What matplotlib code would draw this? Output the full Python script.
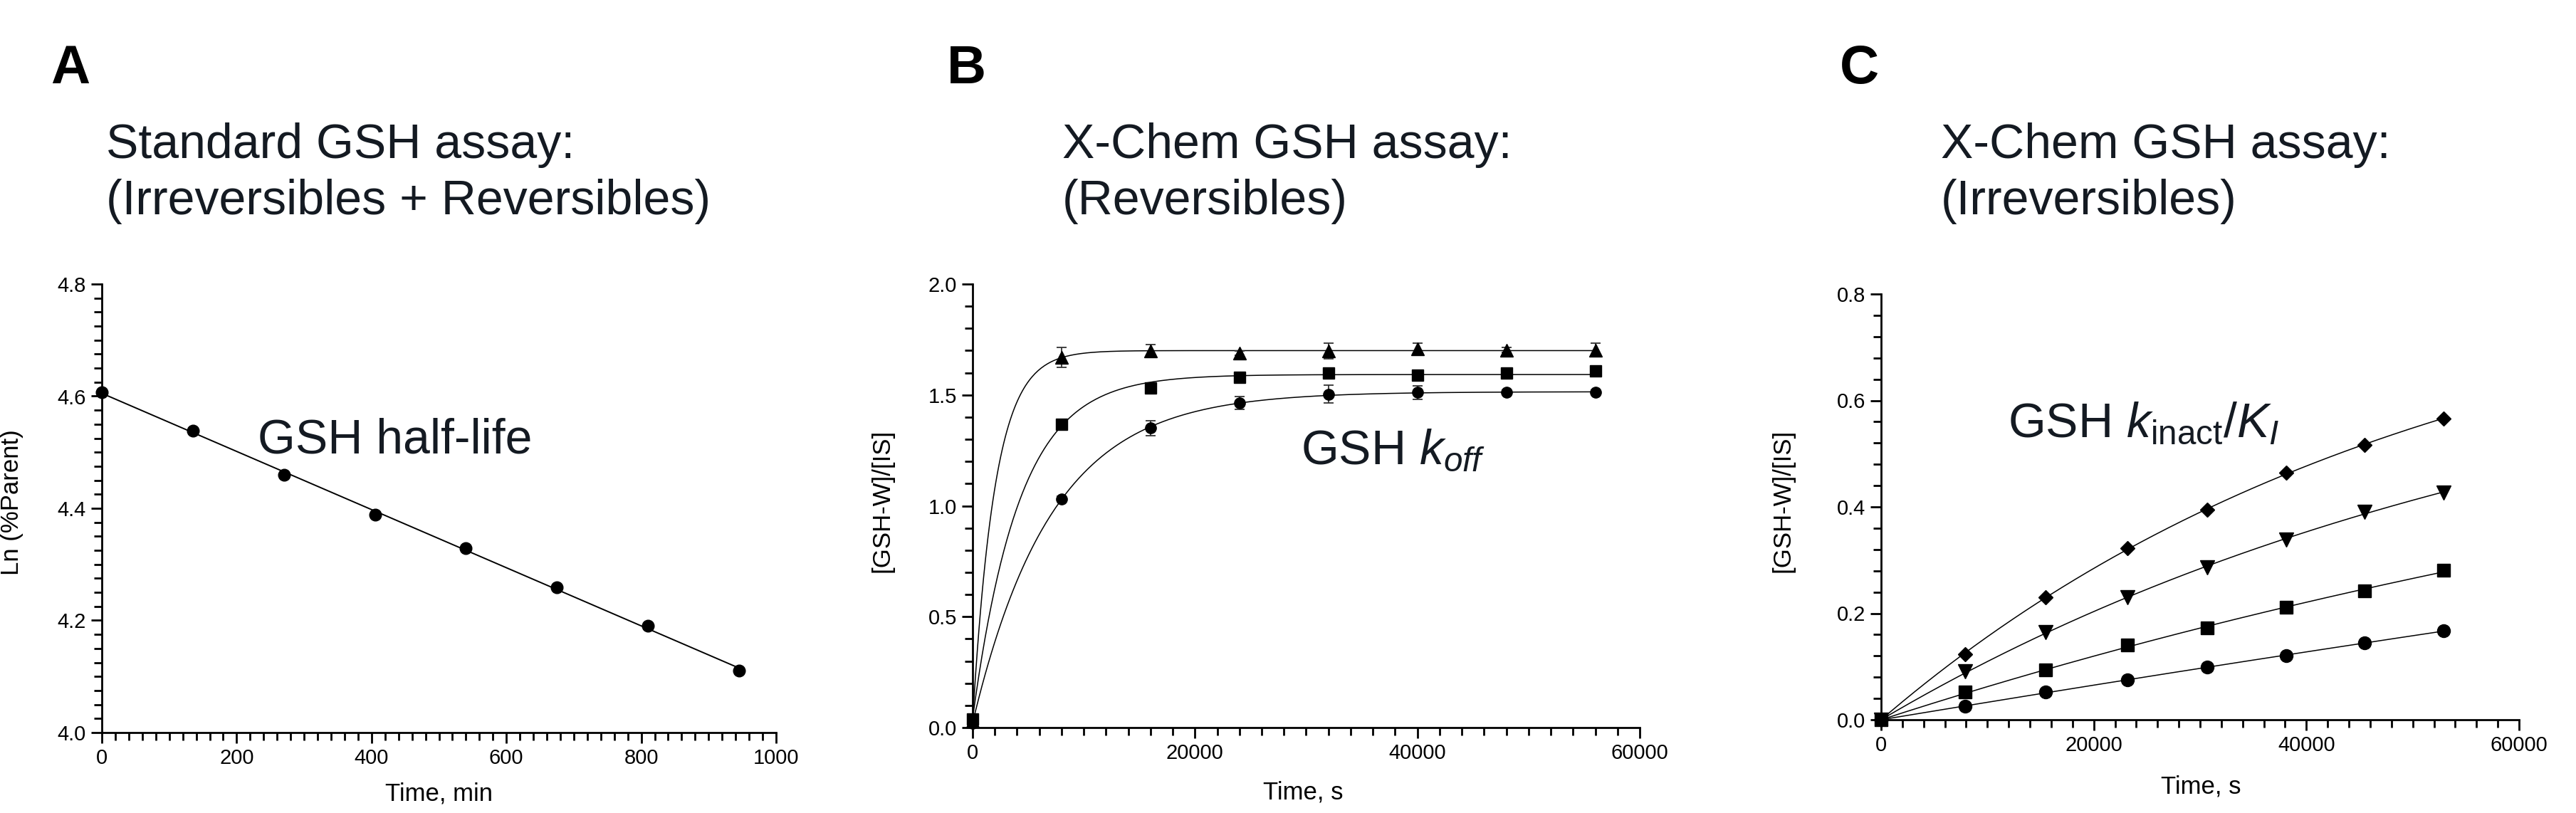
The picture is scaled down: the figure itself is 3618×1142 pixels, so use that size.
import numpy as np
import matplotlib
matplotlib.use('Agg')
import matplotlib.pyplot as plt
import matplotlib.ticker as mtick
from matplotlib import font_manager

# panel A: GSH half-life
t_a = [0, 135, 270, 405, 540, 675, 810, 945]
ln_a = [4.607, 4.538, 4.460, 4.388, 4.329, 4.259, 4.190, 4.110]

# panel B: koff (three reversible compounds)
t_b = [0, 8000, 16000, 24000, 32000, 40000, 48000, 56000]
tri_b = [0.03, 1.668, 1.698, 1.689, 1.698, 1.708, 1.703, 1.703]
tri_b_err = [0.0, 0.045, 0.03, 0.01, 0.035, 0.027, 0.01, 0.03]
sq_b = [0.04, 1.368, 1.532, 1.579, 1.598, 1.588, 1.598, 1.609]
sq_b_err = [0.0, 0.015, 0.015, 0.01, 0.01, 0.01, 0.01, 0.01]
ci_b = [0.02, 1.032, 1.350, 1.464, 1.504, 1.511, 1.511, 1.511]
ci_b_err = [0.0, 0.01, 0.033, 0.03, 0.04, 0.03, 0.01, 0.01]

# panel C: kinact/KI (four irreversible compounds)
t_c = [0, 7900, 15500, 23200, 30700, 38100, 45500, 52900]
dia_c = [0, 0.123, 0.230, 0.322, 0.395, 0.464, 0.517, 0.566]
tri_c = [0, 0.091, 0.164, 0.230, 0.286, 0.339, 0.391, 0.427]
sq_c = [0, 0.052, 0.094, 0.140, 0.173, 0.212, 0.242, 0.281]
ci_c = [0, 0.025, 0.052, 0.075, 0.099, 0.121, 0.144, 0.167]

W, H = 3618, 1142

names = {f.name for f in font_manager.fontManager.ttflist}
if 'Liberation Sans Narrow' in names:
    narrow, tick_fs, lab_fs = 'Liberation Sans Narrow', 25, 29
else:
    narrow, tick_fs, lab_fs = 'Liberation Sans', 21, 25

plt.rcParams['font.family'] = [narrow]
plt.rcParams['mathtext.fontset'] = 'custom'
plt.rcParams['mathtext.rm'] = 'Liberation Sans'
plt.rcParams['mathtext.it'] = 'Liberation Sans:italic'
plt.rcParams['mathtext.bf'] = 'Liberation Sans:bold'

BIG_FS = 49
TXT = '#141a22'


def fit_assoc(t, y, offset):
    # one-phase association fit, grid over k with linear least squares
    t = np.asarray(t, float)
    y = np.asarray(y, float)
    best = None
    for k in np.logspace(-7, -2, 3000):
        e = np.exp(-k * t)
        A = np.column_stack([1 - e, e]) if offset else (1 - e)[:, None]
        coef = np.linalg.lstsq(A, y, rcond=None)[0]
        r = np.sum((A @ coef - y) ** 2)
        if best is None or r < best[0]:
            best = (r, k, coef)
    k, coef = best[1], best[2]
    tt = np.linspace(0, t.max(), 400)
    e = np.exp(-k * tt)
    yy = coef[0] * (1 - e) + (coef[1] * e if offset else 0)
    return tt, yy


def style(ax, xmaj, xmin, ymaj, ymin, yfmt, xlim, ylim):
    ax.set_xlim(*xlim)
    ax.set_ylim(*ylim)
    for s in ['top', 'right']:
        ax.spines[s].set_visible(False)
    for s in ['left', 'bottom']:
        ax.spines[s].set_linewidth(2.0)
    ax.xaxis.set_major_locator(mtick.MultipleLocator(xmaj))
    ax.xaxis.set_minor_locator(mtick.MultipleLocator(xmin))
    ax.yaxis.set_major_locator(mtick.MultipleLocator(ymaj))
    ax.yaxis.set_minor_locator(mtick.MultipleLocator(ymin))
    ax.xaxis.set_major_formatter(mtick.FormatStrFormatter('%d'))
    ax.yaxis.set_major_formatter(mtick.FormatStrFormatter(yfmt))
    ax.tick_params(which='major', length=11, width=2, labelsize=tick_fs, pad=5)
    ax.tick_params(which='minor', length=8, width=2)


def axes_px(l, r, t, b):
    return fig.add_axes([l / W, 1 - b / H, (r - l) / W, (b - t) / H])


fig = plt.figure(figsize=(W / 100, H / 100), dpi=100)

# panel letters and titles
for x, letter in [(71, 'A'), (1330, 'B'), (2584, 'C')]:
    fig.text(x / W, 1 - 117 / H, letter, fontsize=55, fontweight='bold',
             family='Liberation Sans', va='baseline')
titles = [(149, 'Standard GSH assay:', '(Irreversibles + Reversibles)'),
          (1492, 'X-Chem GSH assay:', '(Reversibles)'),
          (2726, 'X-Chem GSH assay:', '(Irreversibles)')]
for x, l1, l2 in titles:
    fig.text(x / W, 1 - 222 / H, l1, fontsize=BIG_FS, family='Liberation Sans',
             color=TXT, va='baseline')
    fig.text(x / W, 1 - 301 / H, l2, fontsize=BIG_FS, family='Liberation Sans',
             color=TXT, va='baseline')

# A
ax = axes_px(143, 1090, 399, 1029)
p = np.polyfit(t_a, ln_a, 1)
tl = np.array([0, max(t_a)])
ax.plot(tl, np.polyval(p, tl), color='black', lw=1.4)
ax.plot(t_a, ln_a, 'o', color='black', ms=12, clip_on=False)
style(ax, 200, 20, 0.2, 0.025, '%.1f', (0, 1000), (4.0, 4.8))
ax.set_xlabel('Time, min', fontsize=lab_fs)
ax.set_ylabel('Ln (%Parent)', fontsize=lab_fs)
ax.xaxis.set_label_coords(0.5, -0.11)
ax.yaxis.set_label_coords(-0.116, 0.513)
ax.text(231, 4.498, 'GSH half-life', fontsize=BIG_FS, family='Liberation Sans',
        color=TXT, va='baseline')

# B
ax = axes_px(1366, 2303, 399, 1022)
for y, err, m, ms in [(tri_b, tri_b_err, '^', 12.5), (sq_b, sq_b_err, 's', 11),
                      (ci_b, ci_b_err, 'o', 11)]:
    tt, yy = fit_assoc(t_b, y, True)
    ax.plot(tt, yy, color='black', lw=1.1)
    ax.errorbar(t_b, y, yerr=err, fmt='none', ecolor='#333333', elinewidth=1.3,
                capsize=5, capthick=1.3)
    ax.plot(t_b, y, m, color='black', ms=ms, clip_on=False)
style(ax, 20000, 2000, 0.5, 0.1, '%.1f', (0, 60000), (0, 2.0))
ax.set_xlabel('Time, s', fontsize=lab_fs)
ax.set_ylabel('[GSH-W]/[IS]', fontsize=lab_fs)
ax.xaxis.set_label_coords(0.495, -0.119)
ax.yaxis.set_label_coords(-0.118, 0.512)
ax.text(29520, 1.188, r'GSH $k_{off}$', fontsize=BIG_FS, family='Liberation Sans',
        color=TXT, va='baseline')

# C
ax = axes_px(2642, 3538, 413, 1011)
for y, m, ms in [(dia_c, 'D', 10), (tri_c, 'v', 14), (sq_c, 's', 13), (ci_c, 'o', 13)]:
    tt, yy = fit_assoc(t_c, y, False)
    ax.plot(tt, yy, color='black', lw=1.1)
    ax.plot(t_c, y, m, color='black', ms=ms, clip_on=False)
style(ax, 20000, 2000, 0.2, 0.04, '%.1f', (0, 60000), (0, 0.8))
ax.set_xlabel('Time, s', fontsize=lab_fs)
ax.set_ylabel('[GSH-W]/[IS]', fontsize=lab_fs)
ax.xaxis.set_label_coords(0.501, -0.130)
ax.yaxis.set_label_coords(-0.136, 0.515)
ax.text(11920, 0.531, r'GSH $k_{\mathrm{inact}}/K_I$', fontsize=BIG_FS,
        family='Liberation Sans', color=TXT, va='baseline')

fig.savefig('out.png', dpi=100)
